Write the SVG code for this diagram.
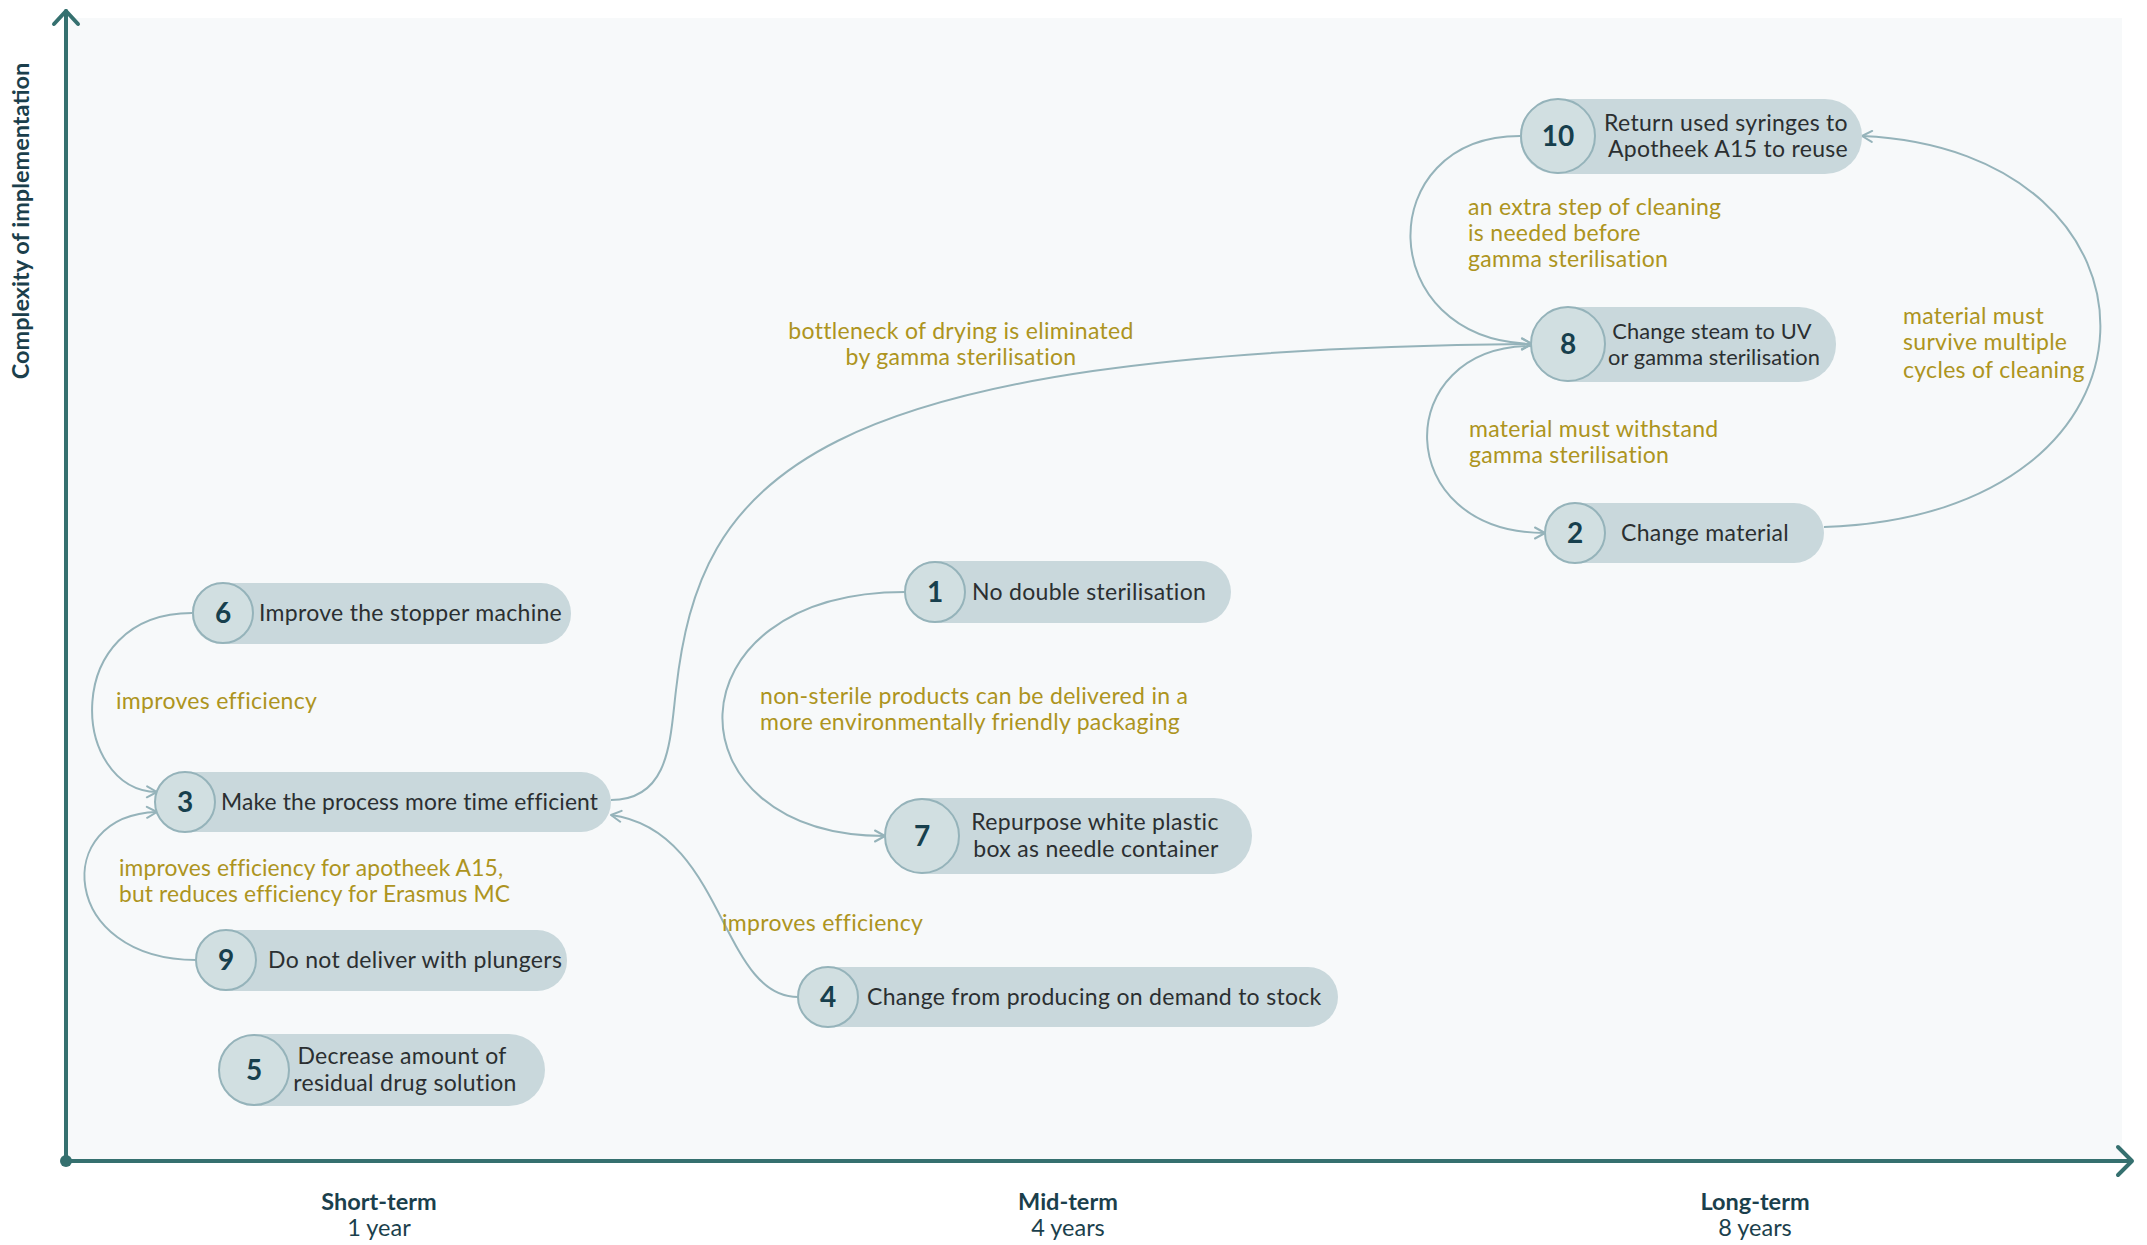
<svg xmlns="http://www.w3.org/2000/svg" width="2147" height="1245" viewBox="0 0 2147 1245">
<style>
.pill{fill:#c9d8dc}
.circ{fill:#d1dfe1;stroke:#95b3ba;stroke-width:2}
.num{font-family:Lato,"Noto Sans",sans-serif;font-weight:700;font-size:28px;fill:#173f4d;text-anchor:middle}
.txt{font-family:Lato,"Noto Sans",sans-serif;font-size:23px;letter-spacing:0.3px;fill:#2b2f31}
.lbl{font-family:Lato,"Noto Sans",sans-serif;font-size:23px;letter-spacing:0.3px;fill:#ad9420}
.sm{font-size:21.8px;letter-spacing:0.1px}
.md{font-size:22.8px;letter-spacing:0.15px}
.conn{fill:none;stroke:#95b3ba;stroke-width:2}
.axis{fill:none;stroke:#35706f;stroke-width:4;stroke-linecap:round;stroke-linejoin:round}
.axl{font-family:Lato,"Noto Sans",sans-serif;font-size:23.5px;fill:#1b3f4c;text-anchor:middle}
</style>
<defs>
<marker id="arr" viewBox="0 0 14 14" refX="12" refY="7" markerWidth="14" markerHeight="14" markerUnits="userSpaceOnUse" orient="auto">
<path d="M2,1.5 L12,7 L2,12.5" fill="none" stroke="#95b3ba" stroke-width="2" stroke-linecap="round" stroke-linejoin="round"/>
</marker>
</defs>
<rect x="0" y="0" width="2147" height="1245" fill="#ffffff"/>
<rect x="68" y="18" width="2054" height="1143" fill="#f7f9fa"/>

<g id="axes">
<path class="axis" d="M66,1161 L66,11"/>
<path class="axis" d="M54,24 L66,11 L78,24"/>
<path class="axis" d="M66,1161 L2130,1161"/>
<path class="axis" d="M2118,1147 L2132,1161 L2118,1175"/>
<circle cx="66" cy="1161" r="6" fill="#35706f"/>
<text class="axl" font-weight="700" transform="translate(29,221) rotate(-90)">Complexity of implementation</text>
<text class="axl" x="379" y="1210" font-weight="700">Short-term</text>
<text class="axl" x="379" y="1236">1 year</text>
<text class="axl" x="1068" y="1210" font-weight="700">Mid-term</text>
<text class="axl" x="1068" y="1236">4 years</text>
<text class="axl" x="1755" y="1210" font-weight="700">Long-term</text>
<text class="axl" x="1755" y="1236">8 years</text>
</g>

<g id="connectors">
<path class="conn" marker-end="url(#arr)" d="M192,613 C60,613 70,790 157,792"/>
<path class="conn" marker-end="url(#arr)" d="M196,960 C60,960 50,815 157,812"/>
<path class="conn" marker-end="url(#arr)" d="M611,800 C670,800 670,740 676,690 C700,480 800,350 1532,344"/>
<path class="conn" marker-end="url(#arr)" d="M798,997 C720,997 725,830 611,815"/>
<path class="conn" marker-end="url(#arr)" d="M905,592 C665,592 665,836 885,836"/>
<path class="conn" marker-end="url(#arr)" d="M1520,136 C1372,136 1372,340 1532,344"/>
<path class="conn" marker-end="url(#arr)" d="M1532,346 C1390,346 1390,533 1545,533"/>
<path class="conn" marker-end="url(#arr)" d="M1824,527 C2190,515 2182,150 1862,136"/>
<text class="lbl" x="116" y="709">improves efficiency</text>
<text class="lbl md" x="119" y="876">improves efficiency for apotheek A15,</text>
<text class="lbl md" x="119" y="902">but reduces efficiency for Erasmus MC</text>
<text class="lbl" x="961" y="339" text-anchor="middle">bottleneck of drying is eliminated</text>
<text class="lbl" x="961" y="365" text-anchor="middle">by gamma sterilisation</text>
<text class="lbl" x="760" y="704">non-sterile products can be delivered in a</text>
<text class="lbl" x="760" y="730">more environmentally friendly packaging</text>
<text class="lbl" x="722" y="931">improves efficiency</text>
<text class="lbl" x="1468" y="215">an extra step of cleaning</text>
<text class="lbl" x="1468" y="241">is needed before</text>
<text class="lbl" x="1468" y="267">gamma sterilisation</text>
<text class="lbl" x="1469" y="437">material must withstand</text>
<text class="lbl" x="1469" y="463">gamma sterilisation</text>
<text class="lbl" x="1903" y="324">material must</text>
<text class="lbl" x="1903" y="350">survive multiple</text>
<text class="lbl" x="1903" y="378">cycles of cleaning</text>
</g>

<g id="node10">
<rect class="pill" x="1520" y="99" width="342" height="75" rx="37"/>
<circle class="circ" cx="1558" cy="136" r="37"/>
<text class="num" x="1558" y="146">10</text>
<text class="txt" x="1726" y="131" text-anchor="middle">Return used syringes to</text>
<text class="txt" x="1728" y="157" text-anchor="middle">Apotheek A15 to reuse</text>
</g>

<g id="node8">
<rect class="pill" x="1531" y="307" width="305" height="75" rx="37"/>
<circle class="circ" cx="1568" cy="344" r="37"/>
<text class="num" x="1568" y="354">8</text>
<text class="txt sm" x="1712" y="339" text-anchor="middle">Change steam to UV</text>
<text class="txt sm" x="1714" y="365" text-anchor="middle">or gamma sterilisation</text>
</g>

<g id="node2">
<rect class="pill" x="1545" y="503" width="279" height="60" rx="30"/>
<circle class="circ" cx="1575" cy="533" r="30"/>
<text class="num" x="1575" y="543">2</text>
<text class="txt" x="1705" y="541" text-anchor="middle">Change material</text>
</g>

<g id="node1">
<rect class="pill" x="905" y="561" width="326" height="62" rx="31"/>
<circle class="circ" cx="935" cy="592" r="30"/>
<text class="num" x="935" y="602">1</text>
<text class="txt" x="972" y="600">No double sterilisation</text>
</g>

<g id="node7">
<rect class="pill" x="885" y="798" width="367" height="76" rx="38"/>
<circle class="circ" cx="922" cy="836" r="37"/>
<text class="num" x="922" y="846">7</text>
<text class="txt" x="1095" y="830" text-anchor="middle">Repurpose white plastic</text>
<text class="txt" x="1096" y="857" text-anchor="middle">box as needle container</text>
</g>

<g id="node4">
<rect class="pill" x="798" y="967" width="540" height="60" rx="30"/>
<circle class="circ" cx="828" cy="997" r="30"/>
<text class="num" x="828" y="1007">4</text>
<text class="txt" x="867" y="1005">Change from producing on demand to stock</text>
</g>

<g id="node6">
<rect class="pill" x="192" y="583" width="379" height="61" rx="30"/>
<circle class="circ" cx="223" cy="613" r="30"/>
<text class="num" x="223" y="623">6</text>
<text class="txt" x="259" y="621">Improve the stopper machine</text>
</g>

<g id="node3">
<rect class="pill" x="155" y="772" width="456" height="60" rx="30"/>
<circle class="circ" cx="185" cy="802" r="30"/>
<text class="num" x="185" y="812">3</text>
<text class="txt md" x="221" y="810">Make the process more time efficient</text>
</g>

<g id="node9">
<rect class="pill" x="196" y="930" width="371" height="61" rx="30"/>
<circle class="circ" cx="226" cy="960" r="30"/>
<text class="num" x="226" y="970">9</text>
<text class="txt" x="268" y="968">Do not deliver with plungers</text>
</g>

<g id="node5">
<rect class="pill" x="219" y="1034" width="326" height="72" rx="36"/>
<circle class="circ" cx="254" cy="1070" r="35"/>
<text class="num" x="254" y="1080">5</text>
<text class="txt" x="402" y="1064" text-anchor="middle">Decrease amount of</text>
<text class="txt" x="405" y="1091" text-anchor="middle">residual drug solution</text>
</g>
</svg>
